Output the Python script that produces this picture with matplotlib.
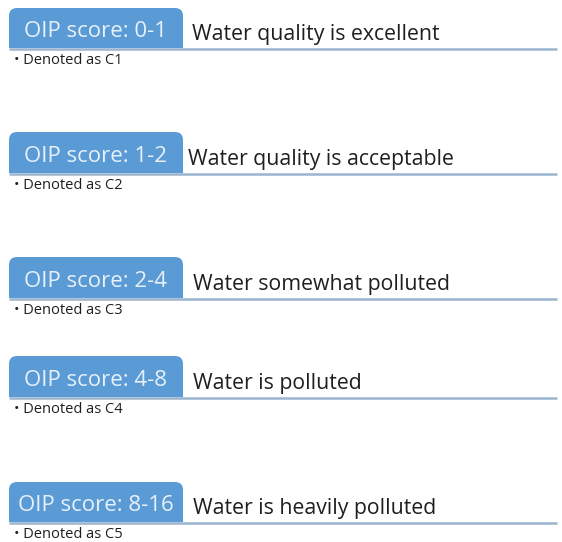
import matplotlib
matplotlib.use("Agg")
import matplotlib.pyplot as plt
from matplotlib.patches import FancyBboxPatch, Rectangle

# content
score_ranges = ["0-1", "1-2", "2-4", "4-8", "8-16"]
descriptions = ["Water quality is excellent", "Water quality is acceptable",
                "Water somewhat polluted", "Water is polluted",
                "Water is heavily polluted"]
codes = ["C1", "C2", "C3", "C4", "C5"]

# layout (pixels)
tab_top = [8, 132, 257, 356, 482]
tab_bottom = [48, 173, 298, 397, 522]
desc_x = [192, 188, 193, 193, 193]
TAB_LEFT = 9
TAB_RIGHT = 183
LINE_RIGHT = 557
BLUE = "#5b9bd5"
LINE = "#9ab4cf"
FONT = "Open Sans"

W, H = 562, 542
fig = plt.figure(figsize=(W / 100, H / 100), dpi=100)
ax = fig.add_axes([0, 0, 1, 1])
ax.set_xlim(0, W)
ax.set_ylim(H, 0)
ax.axis("off")

for rng, desc, code, y0, y1, dx in zip(score_ranges, descriptions, codes,
                                       tab_top, tab_bottom, desc_x):
    h = y1 - y0
    w = TAB_RIGHT - TAB_LEFT
    # tab with rounded top corners only
    ax.add_patch(FancyBboxPatch((TAB_LEFT, y0), w, h,
                                boxstyle="round,pad=0,rounding_size=8",
                                fc=BLUE, ec="none", zorder=2))
    ax.add_patch(Rectangle((TAB_LEFT, y0 + h / 2), w, h / 2,
                           fc=BLUE, ec="none", zorder=2))
    ax.plot([TAB_LEFT, LINE_RIGHT], [y1 + 0.5, y1 + 0.5], color=LINE, lw=1.8,
            zorder=1, solid_capstyle="butt")
    ax.text((TAB_LEFT + TAB_RIGHT) / 2, y1 - 11, f"OIP score: {rng}",
            color="#e8f0f9", fontsize=16, ha="center", va="baseline",
            family=FONT, zorder=3)
    ax.text(dx, y1 - 8, desc, color="#1f1f1f", fontsize=15.3,
            ha="left", va="baseline", family=FONT, zorder=3)
    ax.text(TAB_LEFT + 5, y1 + 12.5, f"\u2022 Denoted as {code}", color="#1f1f1f",
            fontsize=10.5, ha="left", va="center", family=FONT, zorder=3)

fig.savefig("out.png", dpi=100, facecolor="white")
